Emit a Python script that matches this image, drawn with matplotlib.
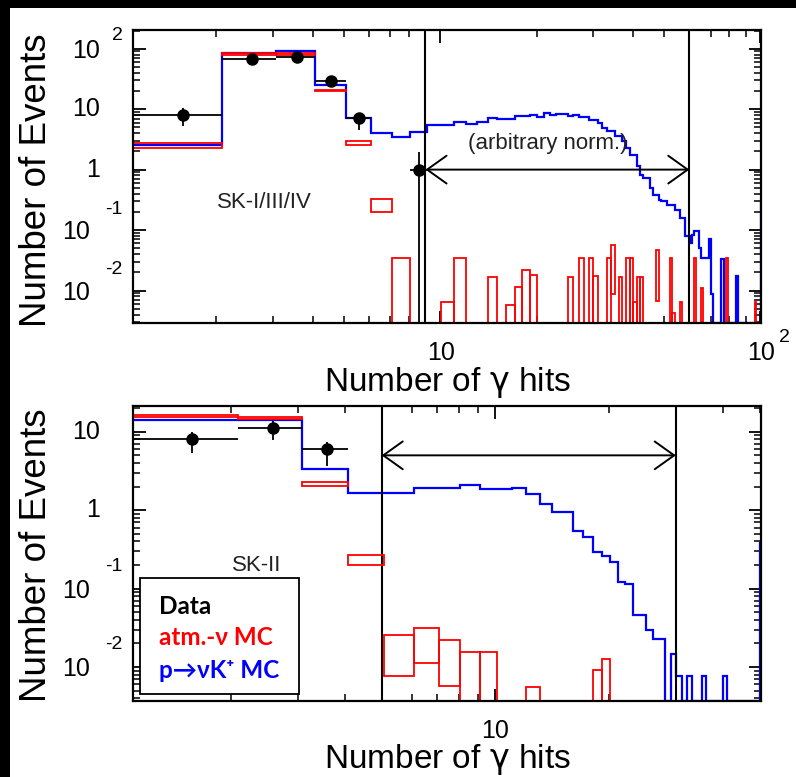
import numpy as np
import matplotlib
matplotlib.use('Agg')
import matplotlib.pyplot as plt
from matplotlib.patches import Rectangle
from matplotlib.ticker import FixedLocator, LogLocator, NullFormatter

plt.rcParams['font.family'] = ['Liberation Sans', 'DejaVu Sans']
plt.rcParams['mathtext.fontset'] = 'dejavusans'

# histogram bin n covers [n + 0.08, n + 1.08] gamma hits
bin_shift = 0.08

# ---- SK-I/III/IV (top panel) ----
# p -> nu K+ MC, one value per bin n = 0..100 (last one is the overflow)
top_sig = [1.0, 2.6, 85, 92.7, 25.4, 7.15, 4.05, 3.47, 4.18, 5.4,
           5.4, 6.07, 5.77, 6.14, 7.15, 7.0, 6.97, 7.62, 7.62, 7.91,
           7.33, 8.65, 7.91, 8.32, 8.32, 7.71, 8.11, 7.33, 7.33, 6.71,
           6.71, 5.92, 4.89, 4.31, 4.31, 3.56, 3.56, 2.94, 2.28, 1.77,
           1.77, 1.135, 0.828, 0.729, 0.729, 0.498, 0.387, 0.387, 0.32, 0.30,
           0.30, 0.264, 0.264, 0.264, 0.218, 0.218, 0.159, 0.159, 0.079, 0.079,
           0.061, 0.084, 0.096, 0.096, 0.051, 0.035, 0.035, 0.035, 0.035, 0.07,
           0.0086, 0, 0, 0, 0, 0.033, 0.033, 0, 0, 0,
           0, 0, 0, 0, 0.0173, 0, 0, 0, 0, 0,
           0, 0, 0, 0, 0, 0, 0, 0, 0, 0,
           0.3]
# atm. nu MC, error boxes (low, high) in the filled bins
top_bkg_bin = [1, 2, 3, 4, 5, 6, 7, 10, 11, 14, 16, 17, 18, 19, 25, 27, 29, 30,
               33, 34, 36, 38, 39, 40, 41, 42, 47, 52, 53, 56, 62, 65, 78, 96]
top_bkg_lo = [2.27, 79.6, 80, 19.7, 2.53, 0.20, 0, 0, 0, 0, 0, 0, 0, 0, 0, 0, 0, 0,
              0, 0.0086, 0, 0, 0, 0, 0, 0, 0.0066, 0, 0, 0, 0, 0, 0, 0]
top_bkg_hi = [2.77, 86, 86, 21.0, 2.95, 0.33, 0.034, 0.0065, 0.034, 0.0167, 0.0057,
              0.0114, 0.0217, 0.018, 0.0167, 0.034, 0.034, 0.0173, 0.034, 0.057,
              0.017, 0.034, 0.034, 0.0064, 0.017, 0.017, 0.046, 0.034, 0.0043,
              0.0065, 0.034, 0.011, 0.034, 0.0065]
# data
top_dat_bin = [1, 2, 3, 4, 5, 8]
top_dat_y = [7.9, 67.5, 72.9, 29.6, 7.15, 1.0]
top_dat_lo = [5.2, 60, 65, 24.5, 4.6, 0]
top_dat_hi = [10.5, 75, 81, 35, 8.65, 1.96]
top_cuts = [9, 60]
top_arrow_y = 1.0

# ---- SK-II (bottom panel) ----
bot_sig = [1.05, 14.1, 14.1, 3.31, 1.66, 1.66, 1.89, 1.89, 2.08, 1.84,
           1.84, 1.89, 1.6, 1.19, 0.95, 0.95, 0.545, 0.448, 0.294, 0.259,
           0.215, 0.121, 0.113, 0.0456, 0.0456, 0.0299, 0.023, 0.023, 0, 0.0148,
           0.0076, 0, 0.0076, 0, 0, 0.0076, 0, 0, 0, 0,
           0.0076, 0, 0, 0, 0, 0, 0, 0, 0, 0,
           0.38]
bot_bkg_bin = [1, 2, 3, 4, 5, 6, 7, 8, 9, 12, 18, 19]
bot_bkg_lo = [15.3, 14.4, 2.03, 0.2, 0.0076, 0.0112, 0.0058, 0, 0, 0, 0, 0]
bot_bkg_hi = [16.3, 15.5, 2.3, 0.27, 0.0253, 0.0315, 0.0218, 0.0155, 0.0155,
              0.0056, 0.0092, 0.0128]
bot_dat_bin = [1, 2, 3]
bot_dat_y = [8.14, 11.05, 6.01]
bot_dat_lo = [5.3, 7.8, 3.7]
bot_dat_hi = [10.0, 13.8, 7.45]
bot_cuts = [5, 30]
bot_arrow_y = 5.0


def draw_panel(ax, sig, bkg_bin, bkg_lo, bkg_hi, dat_bin, dat_y, dat_lo, dat_hi,
               xlim, ylim, cuts, arrow_y):
    floor = ylim[0]
    sig = np.asarray(sig, float)
    edges = np.arange(len(sig) + 1) + bin_shift
    ax.stairs(np.where(sig > 0, sig, floor), edges, color='blue', lw=1.6,
              baseline=None, zorder=2)

    lo = np.maximum(np.asarray(bkg_lo, float), floor)
    hi = np.asarray(bkg_hi, float)
    ax.bar(np.asarray(bkg_bin) + bin_shift, hi - lo, width=1, bottom=lo,
           align='edge', fill=False, edgecolor='red', lw=1.3, zorder=2.5)

    x = np.asarray(dat_bin) + bin_shift + 0.5
    y = np.asarray(dat_y, float)
    ylo = np.maximum(np.asarray(dat_lo, float), floor * 0.1)
    ax.errorbar(x, y, xerr=0.5, yerr=[y - ylo, np.asarray(dat_hi) - y],
                fmt='o', color='black', ms=8, lw=1.3, capsize=0, zorder=3)

    for c in cuts:
        ax.axvline(c, color='black', lw=1.5, zorder=2.2)
    ax.annotate('', xy=(cuts[1], arrow_y), xytext=(cuts[0], arrow_y),
                arrowprops=dict(arrowstyle='<->,head_length=0.7,head_width=0.5',
                                lw=1.4, color='black', shrinkA=0, shrinkB=0,
                                mutation_scale=20), zorder=3)

    ax.set_xscale('log')
    ax.set_yscale('log')
    ax.set_xlim(*xlim)
    ax.set_ylim(*ylim)
    ax.xaxis.set_major_locator(FixedLocator([10, 100]))
    ax.xaxis.set_minor_locator(FixedLocator([2, 3, 4, 5, 6, 7, 8, 9,
                                             20, 30, 40, 50, 60, 70, 80, 90]))
    ax.yaxis.set_major_locator(LogLocator(base=10, numticks=12))
    ax.yaxis.set_minor_locator(LogLocator(base=10, subs=np.arange(2, 10), numticks=12))
    ax.xaxis.set_minor_formatter(NullFormatter())
    ax.yaxis.set_minor_formatter(NullFormatter())
    ax.tick_params(which='both', direction='in', top=True, right=True,
                   labelbottom=False, labelleft=False)
    ax.tick_params(which='major', length=9, width=1.3)
    ax.tick_params(which='minor', length=5, width=1.1)
    for s in ax.spines.values():
        s.set_linewidth(1.6)


def ylabels(ax, labels, exp_dy):
    tr = ax.get_yaxis_transform()
    for v, base, ex in labels:
        if ex == '':
            ax.annotate(base, xy=(0, v), xycoords=tr, xytext=(-33, 0),
                        textcoords='offset pixels', ha='right', va='center', fontsize=18)
        else:
            bx, ex_x, dy = (-33, -21, 13) if ex == '2' else (-43, -28, exp_dy)
            ax.annotate(base, xy=(0, v), xycoords=tr, xytext=(bx, -2),
                        textcoords='offset pixels', ha='right', va='center', fontsize=18)
            ax.annotate(ex, xy=(0, v), xycoords=tr, xytext=(ex_x, dy),
                        textcoords='offset pixels', ha='left', va='center', fontsize=14)


fig = plt.figure(figsize=(7.96, 7.77), dpi=100, facecolor='black')
fig.add_artist(Rectangle((10 / 796, 0), 1, 1 - 8 / 777, transform=fig.transFigure,
                         facecolor='white', edgecolor='none', zorder=-10))

ax1 = fig.add_axes([133 / 796, 1 - 323 / 777, 628 / 796, 293 / 777])
ax2 = fig.add_axes([133 / 796, 1 - 701 / 777, 628 / 796, 295 / 777])

draw_panel(ax1, top_sig, top_bkg_bin, top_bkg_lo, top_bkg_hi, top_dat_bin,
           top_dat_y, top_dat_lo, top_dat_hi, (1.1, 100.4), (0.0029, 204),
           top_cuts, top_arrow_y)
draw_panel(ax2, bot_sig, bot_bkg_bin, bot_bkg_lo, bot_bkg_hi, bot_dat_bin,
           bot_dat_y, bot_dat_lo, bot_dat_hi, (1.1, 50.4), (0.00368, 21.3),
           bot_cuts, bot_arrow_y)

ylabels(ax1, [(100, '10', '2'), (10, '10', ''), (1, '1', ''),
              (0.1, '10', '-1'), (0.01, '10', '-2')], 21)
ylabels(ax2, [(10, '10', ''), (1, '1', ''), (0.1, '10', '-1'), (0.01, '10', '-2')], 22)

xt = ax1.get_xaxis_transform()
ax1.annotate('10', xy=(10, 0), xycoords=xt, xytext=(1, -30), textcoords='offset pixels',
             ha='center', va='center', fontsize=18)
ax1.annotate('10', xy=(100, 0), xycoords=xt, xytext=(1, -30), textcoords='offset pixels',
             ha='center', va='center', fontsize=18)
ax1.annotate('2', xy=(100, 0), xycoords=xt, xytext=(19, -15), textcoords='offset pixels',
             ha='left', va='center', fontsize=14)
ax2.annotate('10', xy=(10, 0), xycoords=ax2.get_xaxis_transform(), xytext=(0, -30),
             textcoords='offset pixels', ha='center', va='center', fontsize=18)

ax1.text(0.21, 0.41, 'SK-I/III/IV', transform=ax1.transAxes, ha='center', va='center',
         fontsize=16, color='#222222')
ax1.text(0.66, 0.614, '(arbitrary norm.)', transform=ax1.transAxes, ha='center',
         va='center', fontsize=16, color='#222222')
ax2.text(0.197, 0.461, 'SK-II', transform=ax2.transAxes, ha='center', va='center',
         fontsize=16, color='#222222')

# legend box
ax2.add_patch(Rectangle((0.011, 0.024), 0.253, 0.393, transform=ax2.transAxes,
                        facecolor='white', edgecolor='black', lw=1.3, zorder=4))
leg = [('Data', 'black', 0.319), ('atm.-ν MC', 'red', 0.214), ('p→νK⁺ MC', 'blue', 0.105)]
for txt, col, yy in leg:
    ax2.text(0.041, yy, txt, transform=ax2.transAxes, ha='left', va='center',
             fontsize=17.5, fontweight='bold', color=col, family=['Lato', 'DejaVu Sans'],
             zorder=5)

for ycen, ybase in [(180, 391), (555, 768)]:
    fig.text(37 / 796, 1 - ycen / 777, 'Number of Events', rotation=90, ha='center',
             va='center', fontsize=26.5)
    fig.text(447 / 796, 1 - ybase / 777, r'Number of $\mathrm{\gamma}$ hits', ha='center',
             va='baseline', fontsize=24)

fig.savefig('out.png', dpi=100, facecolor=fig.get_facecolor())
